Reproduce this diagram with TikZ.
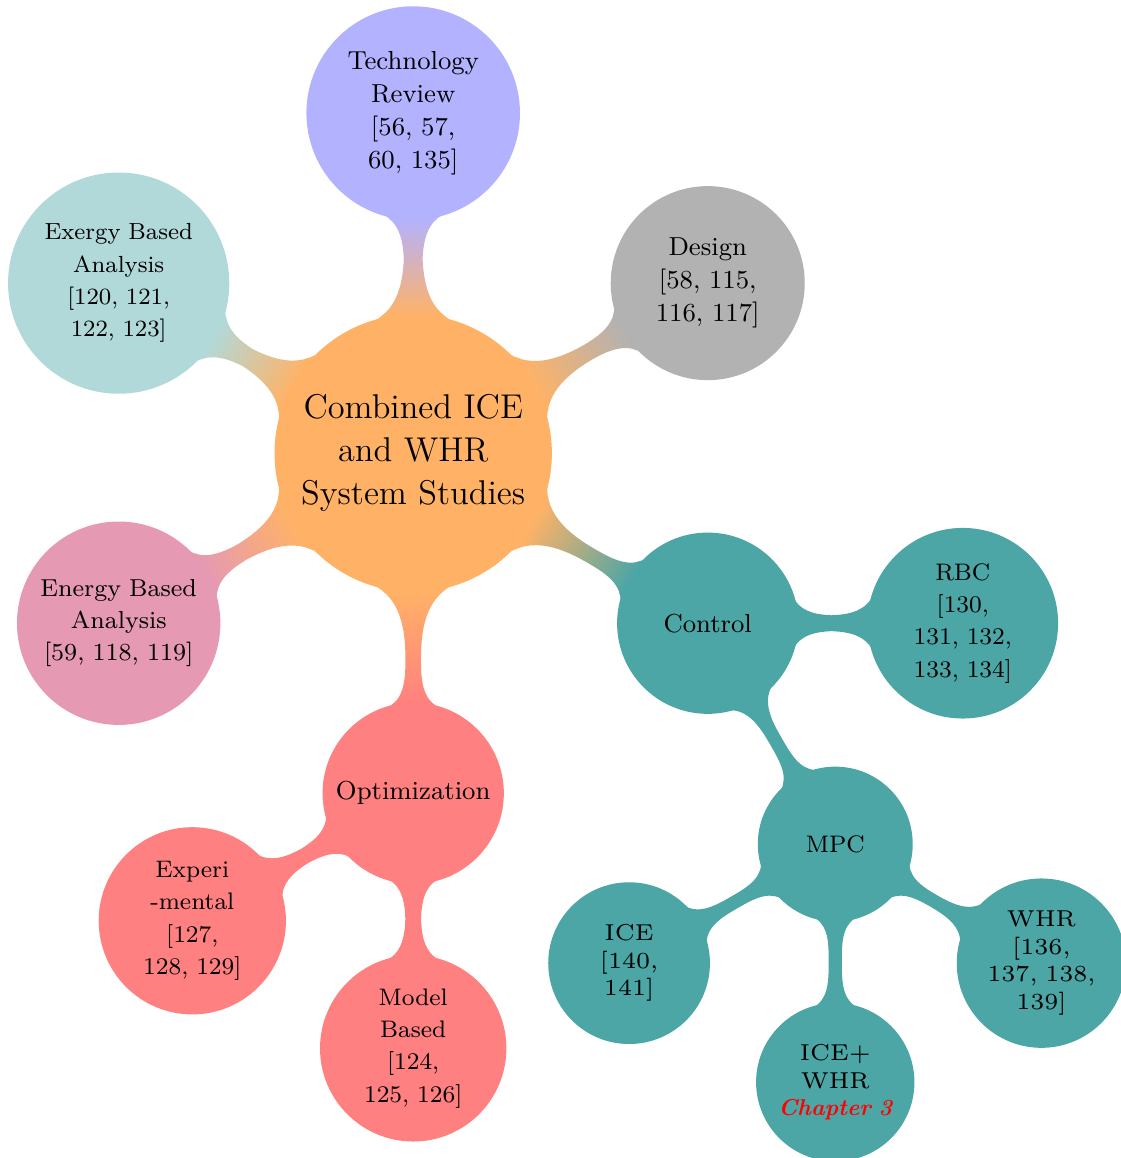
\documentclass[tikz,border=0pt]{standalone}
\usetikzlibrary{mindmap}

% lower optical size for the outermost ring
\font\lmsix="[lmroman6-regular]:mapping=tex-text" at 7.7pt

\begin{document}
\begin{tikzpicture}[
  mindmap,
  every node/.style={concept, inner sep=0pt, align=center, text=black},
  concept color=orange!60,
  root concept/.append style={minimum size=3.22cm, text width=2.7cm, font={\fontsize{11.5}{14.4}\selectfont}},
  lone/.style={text width=1.85cm, font={\fontsize{8.7}{11}\selectfont}},
  ltwo/.style={text width=1.6cm, font={\fontsize{8}{10.8}\selectfont}},
  lthree/.style={text width=1.5cm, font={\fontsize{7.7}{9.2}\selectfont\lmsix}},
  level 1/.append style={level distance=4cm},
  level 2/.append style={level distance=3cm},
  level 3/.append style={level distance=2.8cm}
]
\useasboundingbox (-4.86,-8.29) rectangle (8.32,5.33);

\node[root concept] (root) {Combined ICE\\and WHR\\System Studies}
  child[grow=90, concept color=blue!30] {node[lone, minimum size=2.47cm] (techrev) {Technology\\Review\\{[}56, 57,\\60, 135{]}}}
  child[grow=30, concept color=black!30] {node[lone, minimum size=2.24cm] (design) {Design\\{[}58, 115,\\116, 117{]}}}
  child[grow=-30, concept color=teal!70] {node[lone, minimum size=2.09cm] (control) {Control}
    child[grow=0] {node[ltwo, minimum size=2.2cm] (rbc) {RBC\\{[}130,\\131, 132,\\133, 134{]}}}
    child[grow=-60] {node[ltwo, minimum size=1.78cm] (mpc) {MPC}
      child[grow=210] {node[lthree, minimum size=1.86cm] (mpcice) {ICE\\{[}140,\\141{]}}}
      child[grow=270] {node[lthree, minimum size=1.82cm] (mpcboth) {ICE+\\WHR\\{\color{red}\bfseries\itshape Chapter 3}}}
      child[grow=330] {node[lthree, minimum size=1.95cm] (mpcwhr) {WHR\\{[}136,\\137, 138,\\139{]}}}}}
  child[grow=270, concept color=red!50] {node[lone, minimum size=2.09cm] (optim) {Optimization}
    child[grow=210] {node[ltwo, minimum size=2.16cm] (experim) {Experi\\-mental\\{[}127,\\128, 129{]}}}
    child[grow=270] {node[ltwo, minimum size=2.15cm] (modelbased) {Model\\Based\\{[}124,\\125, 126{]}}}}
  child[grow=210, concept color=purple!40] {node[lone, minimum size=2.35cm, font={\fontsize{8.2}{10.8}\selectfont}] (energy) {Energy Based\\Analysis\\{[}59, 118, 119{]}}}
  child[grow=150, concept color=teal!30] {node[lone, minimum size=2.56cm, font={\fontsize{7.8}{10.8}\selectfont}] (exergy) {Exergy Based\\Analysis\\{[}120, 121,\\122, 123{]}}};
\end{tikzpicture}
\end{document}
